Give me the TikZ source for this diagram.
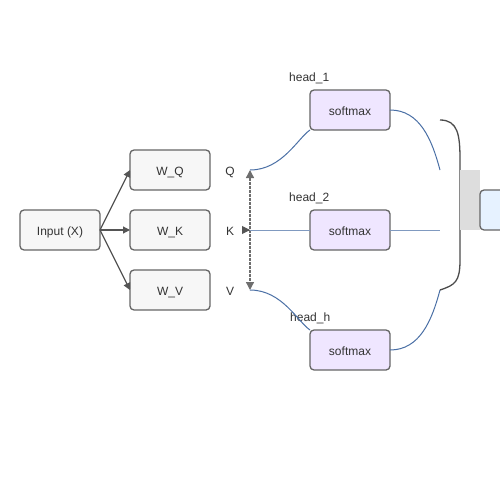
\documentclass[tikz,border=0pt]{standalone}
\usepackage{fontspec}
\setmainfont{Liberation Sans}
\usepackage{tikz}
\usetikzlibrary{arrows.meta}
\usetikzlibrary{shapes,positioning}
\definecolor{penColor}{HTML}{555555}
\definecolor{textColor}{HTML}{333333}
\definecolor{boxFill}{HTML}{F7F7F7}
\definecolor{headFill}{HTML}{EFE6FF}
\definecolor{outFill}{HTML}{E6F2FF}
\definecolor{concatFill}{HTML}{DDDDDD}
\definecolor{flowColor}{HTML}{4A6FA5}

\begin{document}
\begin{tikzpicture}[x=1pt,y=-1pt,
    font=\fontsize{12}{14}\selectfont,text=textColor,
    every node/.style={text height=10.4pt,text depth=0pt},
    box/.style={draw=penColor!90!white,line width=1.3pt,rounded corners=4pt,fill=boxFill,
      minimum width=80pt,minimum height=40pt,inner sep=0pt,outer sep=0pt},
    headbox/.style={box,fill=headFill},
    arr/.style={draw=penColor,line width=1.2pt,-{Triangle[length=7pt,width=7pt]}},
    flow/.style={draw=flowColor,line width=1pt}]
  \useasboundingbox (0,0) rectangle (500,500);
  \clip (0,0) rectangle (500,500);
  % projections
  \node[box] (input) at (60,230) {Input (X)};
  \node[box] (wk) at (170,230) {W\_K};
  \node[box,above=20pt of wk] (wq) {W\_Q};
  \node[box,below=20pt of wk] (wv) {W\_V};
  \draw[arr] (input.east) -- (wq.west);
  \draw[arr] (input.east) -- (wk.west);
  \draw[arr] (input.east) -- (wv.west);
  \node (qlab) at (230,170) {Q};
  \node (klab) at (230,230) {K};
  \node (vlab) at (230,290) {V};
  \coordinate (qpt) at (250,170);
  \coordinate (kpt) at (250,230);
  \coordinate (vpt) at (250,290);
  \coordinate (kin) at (249,230);
  \draw[draw=penColor!85!white,line width=1.3pt,dash pattern=on 3pt off 1pt,
    {Triangle[length=8pt,width=8pt]}-{Triangle[length=8pt,width=8pt]}] (qpt) -- (vpt);
  \draw[draw=penColor,line width=1pt,-{Triangle[length=8pt,width=8pt]}] (kin) -- (kpt);
  % heads
  \node[headbox] (h1) at (350,110) {softmax};
  \node[headbox] (h2) at (350,230) {softmax};
  \node[headbox] (hh) at (350,350) {softmax};
  \node[anchor=west,inner sep=0pt] (l1) at (289,76) {head\_1};
  \node[anchor=west,inner sep=0pt] (l2) at (289,196) {head\_2};
  \node[anchor=west,inner sep=0pt] (lh) at (290,316) {head\_h};
  \coordinate (c1) at (440,170);
  \coordinate (c2) at (440,230);
  \coordinate (ch) at (440,290);
  \draw[flow] (qpt) .. controls (282,170) and (298,138) .. (h1.south west);
  \draw[flow,draw=flowColor!70] (kpt) -- (h2.west);
  \draw[flow] (vpt) .. controls (282,290) and (298,322) .. (hh.north west);
  \draw[flow] (h1.east) .. controls (420,110) and (432,140) .. (c1);
  \draw[flow,draw=flowColor!70] (h2.east) -- (c2);
  \draw[flow] (hh.east) .. controls (420,350) and (432,320) .. (ch);
  % concat
  \draw[draw=penColor!90!black,line width=1.3pt] (440,120) .. controls (458,120) and (460,135) .. (460,160)
    -- (460,260) .. controls (460,282) and (455,285) .. (440,290);
  \fill[concatFill] (460,170) rectangle (480,230);
  \node[box,fill=outFill,anchor=north west] (out) at (480,190) {};
\end{tikzpicture}
\end{document}
